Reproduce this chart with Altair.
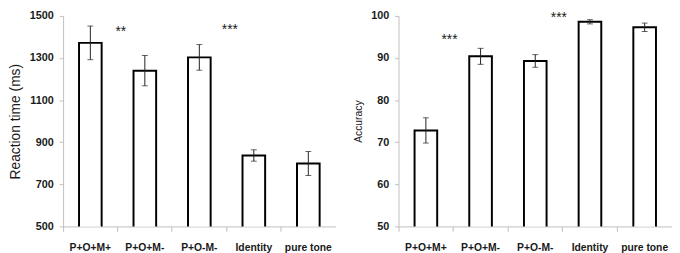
import altair as alt
import pandas as pd

categories = ["P+O+M+", "P+O+M-", "P+O-M-", "Identity", "pure tone"]
rt_mean = [1372, 1240, 1303, 837, 799]
rt_err = [80, 72, 61, 27, 57]
acc_mean = [72.8, 90.4, 89.3, 98.6, 97.3]
acc_err = [3.0, 1.9, 1.5, 0.5, 1.0]

rt_star_cat = ["P+O+M+", "P+O-M-"]
rt_star_val = [1425, 1435]
rt_star_txt = ["**", "***"]
acc_star_cat = ["P+O+M+", "P+O-M-"]
acc_star_val = [94.2, 99.6]
acc_star_txt = ["***", "***"]

FONT = "Liberation Sans"

rt = pd.DataFrame({"cat": categories, "v": rt_mean,
                   "lo": [m - e for m, e in zip(rt_mean, rt_err)],
                   "hi": [m + e for m, e in zip(rt_mean, rt_err)]})
acc = pd.DataFrame({"cat": categories, "v": acc_mean,
                    "lo": [m - e for m, e in zip(acc_mean, acc_err)],
                    "hi": [m + e for m, e in zip(acc_mean, acc_err)]})
rt_st = pd.DataFrame({"cat": rt_star_cat, "v": rt_star_val, "t": rt_star_txt})
acc_st = pd.DataFrame({"cat": acc_star_cat, "v": acc_star_val, "t": acc_star_txt})


def panel(df, st, dom, step, title, tsize, width, dx):
    x = alt.X("cat:N", sort=categories, title=None,
              scale=alt.Scale(paddingInner=0, paddingOuter=0),
              axis=alt.Axis(labelAngle=0, bandPosition=0, labelFontWeight="bold",
                            labelFontSize=10.5, labelPadding=11, tickSize=5,
                            labelColor="#1a1a1a", labelFont=FONT))
    y = alt.Y("v:Q", title=title,
              scale=alt.Scale(domain=dom, nice=False, zero=False),
              axis=alt.Axis(values=list(range(dom[0], dom[1] + 1, step)), grid=False,
                            format="d",
                            labelFontWeight="bold", labelFontSize=11, labelFont=FONT,
                            labelColor="#1a1a1a", tickSize=4, labelPadding=6,
                            titleFontWeight="normal", titleFontSize=tsize, titleFont=FONT,
                            titleColor="#1a1a1a", titlePadding=7))
    bars = alt.Chart(df).mark_bar(size=23, fill="white", stroke="black",
                                  strokeWidth=2, clip=True).encode(x=x, y=y)
    rule = alt.Chart(df).mark_rule(color="#222", strokeWidth=1).encode(
        x=alt.X("cat:N", sort=categories), y="lo:Q", y2="hi:Q")
    t1 = alt.Chart(df).mark_tick(color="#222", size=6, thickness=1).encode(
        x=alt.X("cat:N", sort=categories), y="lo:Q")
    t2 = alt.Chart(df).mark_tick(color="#222", size=6, thickness=1).encode(
        x=alt.X("cat:N", sort=categories), y="hi:Q")
    stars = alt.Chart(st).mark_text(dx=dx, fontSize=14, font=FONT, color="#1a1a1a",
                                    baseline="middle").encode(
        x=alt.X("cat:N", sort=categories), y="v:Q", text="t:N")
    return alt.layer(bars, rule, t1, t2, stars).properties(width=width, height=214)


left = panel(rt, rt_st, [500, 1500], 200, "Reaction time (ms)", 14, 277, 31)
right = panel(acc, acc_st, [50, 100], 10, "Accuracy", 10.5, 278, 24)

chart = alt.hconcat(left, right, spacing=18).properties(
    padding=0
).configure_view(stroke=None).configure_axis(
    domainColor="#bfbfbf", tickColor="#bfbfbf", domainWidth=1
)

chart.save("out.html", embed_options={"renderer": "svg", "actions": False})
